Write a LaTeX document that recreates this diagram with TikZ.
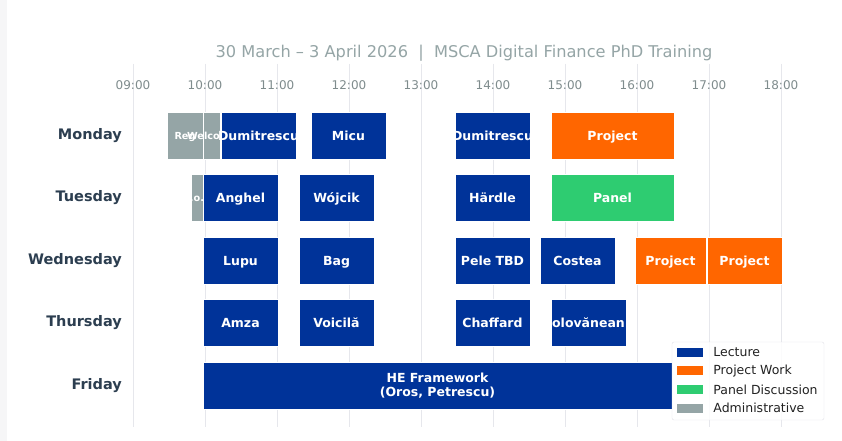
\documentclass[tikz,border=0pt]{standalone}
\usepackage{fontspec}
\setmainfont{DejaVu Sans}
\usetikzlibrary{positioning}
\definecolor{lectureBlue}{HTML}{003399}
\definecolor{projectOrange}{HTML}{FF6600}
\definecolor{panelGreen}{HTML}{2ECC71}
\definecolor{adminGray}{HTML}{95A5A6}
\definecolor{dayText}{HTML}{2C3E50}
\definecolor{tickText}{HTML}{7F8C8D}
\definecolor{gridGray}{HTML}{E6E7EC}
\definecolor{stripGray}{HTML}{F6F6F7}
\definecolor{legendBorder}{HTML}{E2E2E8}
\definecolor{legendText}{HTML}{222222}
\begin{document}
\begin{tikzpicture}
        [x=1pt, y=-1pt,
        bar/.style={rectangle, minimum height=47pt, inner sep=0pt, draw=white, line width=0.5pt},
        barLecture/.style={bar, fill=lectureBlue},
        barProject/.style={bar, fill=projectOrange},
        barPanel/.style={bar, fill=panelGreen},
        barAdmin/.style={bar, fill=adminGray},
        barText/.style={text=white, align=center, inner sep=0pt, text height=10pt, text depth=1pt, font=\fontsize{12.5}{14}\selectfont\bfseries},
        barTextSmall/.style={barText, text height=8pt, text depth=1pt, font=\fontsize{9.7}{11}\selectfont\bfseries},
        dayLabel/.style={anchor=east, inner sep=0pt, text=dayText, font=\fontsize{14.5}{16}\selectfont\bfseries},
        tickLabel/.style={inner sep=0pt, text=tickText, font=\fontsize{12}{14}\selectfont},
        gridline/.style={draw=gridGray, line width=0.8pt},
        legPatch/.style={rectangle, minimum width=26pt, minimum height=9pt, inner sep=0pt},
        legText/.style={anchor=west, inner sep=0pt, text=legendText, font=\fontsize{12.5}{14}\selectfont}]
        \useasboundingbox (0,0) rectangle (842,441);
        \fill[white] (0,0) rectangle (842,441);
        \fill[stripGray] (0,0) rectangle (7,441);

        \node[tickLabel, text=adminGray, font=\fontsize{16.2}{18}\selectfont] (sub) at (464,53) {30 March – 3 April 2026 ~|~ MSCA Digital Finance PhD Training};

        \draw[gridline] (133,64) -- (133,427);
        \draw[gridline] (205,64) -- (205,427);
        \draw[gridline] (277,64) -- (277,427);
        \draw[gridline] (349,64) -- (349,427);
        \draw[gridline] (421,64) -- (421,427);
        \draw[gridline] (493,64) -- (493,427);
        \draw[gridline] (565,64) -- (565,427);
        \draw[gridline] (637,64) -- (637,427);
        \draw[gridline] (709,64) -- (709,427);
        \draw[gridline] (781,64) -- (781,427);

        \node[tickLabel] (t09) at (133,85) {09:00};
        \node[tickLabel] (t10) at (205,85) {10:00};
        \node[tickLabel] (t11) at (277,85) {11:00};
        \node[tickLabel] (t12) at (349,85) {12:00};
        \node[tickLabel] (t13) at (421,85) {13:00};
        \node[tickLabel] (t14) at (493,85) {14:00};
        \node[tickLabel] (t15) at (565,85) {15:00};
        \node[tickLabel] (t16) at (637,85) {16:00};
        \node[tickLabel] (t17) at (709,85) {17:00};
        \node[tickLabel] (t18) at (781,85) {18:00};

        \node[dayLabel] (mon) at (122,135.5) {Monday};
        \node[dayLabel] (tue) at (122,198) {Tuesday};
        \node[dayLabel] (wed) at (122,260.5) {Wednesday};
        \node[dayLabel] (thu) at (122,323) {Thursday};
        \node[dayLabel] (fri) at (122,385.5) {Friday};

        % Monday
        \node[barAdmin, minimum width=36pt] (monReg) at (185,135.5) {};
        \node[barTextSmall] (monRegT) at (monReg) {Reg};
        \node[barAdmin, minimum width=17.5pt] (monWel) at (211.75,135.5) {};
        \node[barTextSmall] (monWelT) at (monWel) {Welcome};
        \node[barLecture, minimum width=75pt] (monDumA) at (258.5,135.5) {};
        \node[barText] (monDumAT) at (monDumA) {Dumitrescu};
        \node[barLecture, minimum width=75pt] (monMicu) at (348.5,135.5) {};
        \node[barText] (monMicuT) at (monMicu) {Micu};
        \node[barLecture, minimum width=75pt] (monDumB) at (492.5,135.5) {};
        \node[barText] (monDumBT) at (monDumB) {Dumitrescu};
        \node[barProject, minimum width=123pt] (monProj) at (612.5,135.5) {};
        \node[barText] (monProjT) at (monProj) {Project};

        % Tuesday
        \node[barAdmin, minimum width=12pt] (tueInfo) at (197,198) {};
        \node[barTextSmall] (tueInfoT) at (tueInfo) {.o.};
        \node[barLecture, minimum width=75pt] (tueAnghel) at (240.5,198) {};
        \node[barText] (tueAnghelT) at (tueAnghel) {Anghel};
        \node[barLecture, minimum width=75pt] (tueWojcik) at (336.5,198) {};
        \node[barText] (tueWojcikT) at (tueWojcik) {Wójcik};
        \node[barLecture, minimum width=75pt] (tueHardle) at (492.5,198) {};
        \node[barText] (tueHardleT) at (tueHardle) {Härdle};
        \node[barPanel, minimum width=123pt] (tuePanel) at (612.5,198) {};
        \node[barText] (tuePanelT) at (tuePanel) {Panel};

        % Wednesday
        \node[barLecture, minimum width=75pt] (wedLupu) at (240.5,260.5) {};
        \node[barText] (wedLupuT) at (wedLupu) {Lupu};
        \node[barLecture, minimum width=75pt] (wedBag) at (336.5,260.5) {};
        \node[barText] (wedBagT) at (wedBag) {Bag};
        \node[barLecture, minimum width=75pt] (wedPele) at (492.5,260.5) {};
        \node[barText] (wedPeleT) at (wedPele) {Pele TBD};
        \node[barLecture, minimum width=75pt] (wedCostea) at (577.5,260.5) {};
        \node[barText] (wedCosteaT) at (wedCostea) {Costea};
        \node[barProject, minimum width=71pt] (wedProjA) at (670.5,260.5) {};
        \node[barText] (wedProjAT) at (wedProjA) {Project};
        \node[barProject, minimum width=75pt] (wedProjB) at (744.5,260.5) {};
        \node[barText] (wedProjBT) at (wedProjB) {Project};

        % Thursday
        \node[barLecture, minimum width=75pt] (thuAmza) at (240.5,323) {};
        \node[barText] (thuAmzaT) at (thuAmza) {Amza};
        \node[barLecture, minimum width=75pt] (thuVoicila) at (336.5,323) {};
        \node[barText] (thuVoicilaT) at (thuVoicila) {Voicilă};
        \node[barLecture, minimum width=75pt] (thuChaffard) at (492.5,323) {};
        \node[barText] (thuChaffardT) at (thuChaffard) {Chaffard};
        \node[barLecture, minimum width=75pt] (thuOlov) at (588.5,323) {};
        \node[barText] (thuOlovT) at (thuOlov) {olovănean};

        % Friday
        \node[barLecture, minimum width=469pt] (friHE) at (437.5,385.5) {};
        \node[barText, yshift=-6.5pt] (friHET) at (friHE) {HE Framework\\(Oros, Petrescu)};

        % legend
        \node[rectangle, minimum width=152pt, minimum height=78pt, inner sep=0pt, fill=white, fill opacity=0.85, draw=legendBorder, rounded corners=2pt] (legend) at (748,381) {};
        \node[legPatch, fill=lectureBlue] (legLecture) at (690,352.2) {};
        \node[legText, right=10pt of legLecture] (legLectureT) {Lecture};
        \node[legPatch, fill=projectOrange] (legProject) at (690,370.8) {};
        \node[legText, right=10pt of legProject] (legProjectT) {Project Work};
        \node[legPatch, fill=panelGreen] (legPanel) at (690,389.4) {};
        \node[legText, right=10pt of legPanel] (legPanelT) {Panel Discussion};
        \node[legPatch, fill=adminGray] (legAdmin) at (690,408) {};
        \node[legText, right=10pt of legAdmin] (legAdminT) {Administrative};

    \end{tikzpicture}
\end{document}
